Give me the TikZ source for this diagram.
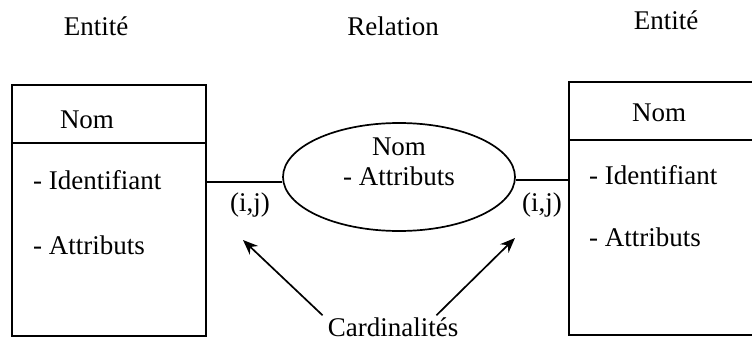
\documentclass[tikz,border=0pt]{standalone}
\usepackage{fontspec}
\setmainfont{Liberation Serif}
\usetikzlibrary{positioning,shapes.geometric,arrows.meta}
\definecolor{InkBlack}{HTML}{000000}

\begin{document}
\begin{tikzpicture}[
    x=1pt, y=-1pt,
    every node/.style={font=\fontsize{27}{30}\selectfont, text=InkBlack, inner sep=0pt},
    entbox/.style={draw=InkBlack, line width=1.7pt},
    lien/.style={draw=InkBlack, line width=1.7pt},
    fleche/.style={draw=InkBlack, line width=1.7pt, -{Stealth[length=15pt,width=12pt]}}
  ]
  \useasboundingbox (0,0) rectangle (752,343);

  % titres
  \node (titA) at (96,26) {Entité};
  \node (titR) at (393,26) {Relation};
  \node (titB) at (666,20) {Entité};

  % entite de gauche
  \node[entbox, minimum width=194pt, minimum height=251pt] (entA) at (109,210.5) {};
  \draw[lien] (entA.west |- 0,143) -- (entA.east |- 0,143);
  \node (nomA) at (87,120) {Nom};
  \node[anchor=west] (idA) at (33,180) {- Identifiant};
  \node[anchor=west] (attA) at (33,245) {- Attributs};

  % entite de droite
  \node[entbox, minimum width=191pt, minimum height=253pt] (entB) at (664.5,208.5) {};
  \draw[lien] (entB.west |- 0,140) -- (entB.east |- 0,140);
  \node (nomB) at (659,113) {Nom};
  \node[anchor=west] (idB) at (589,175) {- Identifiant};
  \node[anchor=west] (attB) at (589,237) {- Attributs};

  % relation
  \node[ellipse, draw=InkBlack, line width=1.7pt, minimum width=232pt, minimum height=108pt] (rel) at (399,177) {};
  \node[align=center] (relTxt) at (399,162) {Nom\\- Attributs};

  \draw[lien] (entA.east |- 0,182) -- (rel.west |- 0,182);
  \draw[lien] (rel.east |- 0,180) -- (entB.west |- 0,180);

  % cardinalites
  \node (ijA) at (250,205) {(i,j)};
  \node (ijB) at (542,205) {(i,j)};
  \node (card) at (393,327) {Cardinalités};
  \coordinate (tipA) at (243,240);
  \coordinate (tipB) at (515,238);
  \draw[fleche] ([shift={(-5,-2)}]card.north west) -- (tipA);
  \draw[fleche] ([shift={(-22,-2)}]card.north east) -- (tipB);
\end{tikzpicture}
\end{document}
